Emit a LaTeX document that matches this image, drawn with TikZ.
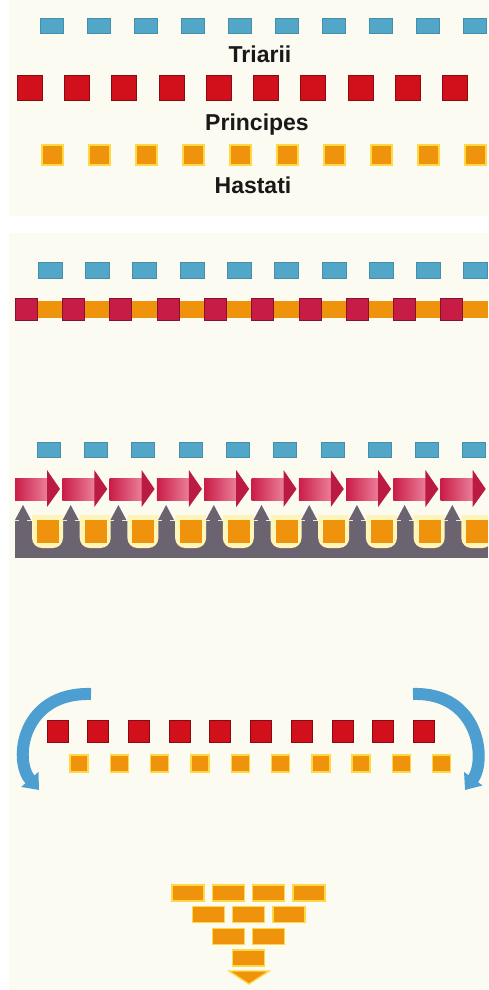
\documentclass[tikz,border=0pt]{standalone}
\usepackage{fontspec}
\setmainfont{Liberation Sans}
\usepackage{xcolor}
\usepackage{tikz}
\usetikzlibrary{arrows.meta,positioning}
\definecolor{LegioSky}{HTML}{52A7C8}
\definecolor{LegioRed}{HTML}{D2101C}
\definecolor{LegioCrimson}{HTML}{DC1F4E}
\definecolor{LegioOrange}{HTML}{EF920C}
\definecolor{LegioAmber}{HTML}{FFD845}
\definecolor{LegioPale}{HTML}{FFF5B8}
\definecolor{LegioSlate}{HTML}{6B6470}
\definecolor{LegioCream}{HTML}{FCFBF1}
\definecolor{LegioBlue}{HTML}{4C9FD0}
\begin{document}
\begin{tikzpicture}[x=1pt,y=-1pt,
  skybox/.style={fill=LegioSky,draw=LegioSky!85!black,line width=.6pt},
  redbox/.style={fill=LegioRed,draw=LegioRed!65!black,line width=.8pt},
  crimbox/.style={fill=LegioCrimson!90!black,draw=LegioCrimson!60!black,line width=.6pt},
  orbox/.style={fill=LegioOrange,draw=LegioAmber,line width=1.4pt},
  rankname/.style={font=\fontsize{23}{26}\selectfont\bfseries,text=black!90,anchor=base},
  bluearc/.style={LegioBlue,line width=12pt,-{Triangle[width=22pt,length=14pt]}}]
\useasboundingbox (0,0) rectangle (488,990);
\clip (0,0) rectangle (488,990);
\fill[LegioCream] (9,0) rectangle (488,216) (9,233) rectangle (488,990);
% the three lines
\foreach \i in {0,...,9}{\path[skybox] ({40+47*\i},18) rectangle +(23,15);}
\foreach \i in {0,...,9}{\path[redbox] ({17+47.3*\i},75) rectangle +(25,25);}
\foreach \i in {0,...,9}{\path[orbox] ({42+47*\i},145) rectangle +(21,20);}
\node[rankname] (triarii) at (260,63) {Triarii};
\node[rankname] (principes) at (257,130) {Principes};
\node[rankname] (hastati) at (253,193) {Hastati};
% closed line
\foreach \i in {0,...,9}{\path[skybox] ({38+47.3*\i},262) rectangle +(24,16);}
\fill[LegioOrange] (15,301) rectangle (488,318);
\foreach \i in {0,...,9}{\path[crimbox] ({15+47.3*\i},298) rectangle +(22,22);}
% principes push through, hastati fall back
\foreach \i in {0,...,9}{\path[skybox] ({37+47.3*\i},442) rectangle +(23,15);}
\foreach \i [evaluate=\i as \x using 15+47.3*\i] in {0,...,9}{
  \shade[left color=LegioCrimson!92!black,right color=LegioCrimson!55] (\x,478) rectangle ({\x+34},500);
  \fill[LegioCrimson!85!black] ({\x+32},470) -- ({\x+45},489) -- ({\x+32},507) -- cycle;}
\fill[LegioSlate] (15,521) rectangle (488,558);
\foreach \i [evaluate=\i as \s using 23+47.7*\i] in {0,...,9}{
  \fill[LegioPale,rounded corners=10pt] ({\s+9},515) -- ({\s+9},548) -- ({\s+40},548) -- ({\s+40},515);
  \fill[LegioOrange] ({\s+14},520) rectangle +(22,23);
  \fill[LegioSlate] ({\s-4},515) rectangle ({\s+4},550);
  \fill[LegioSlate] ({\s-8},520) -- (\s,505) -- ({\s+8},520) -- cycle;}
% wheeling
\draw[bluearc] (91,694) .. controls (22,692) and (13,760) .. (39,790);
\draw[bluearc] (413,694) .. controls (479,692) and (487,760) .. (465,790);
\foreach \i in {0,...,9}{\path[redbox] ({47+40.7*\i},720) rectangle +(21,22);}
\foreach \i in {0,...,9}{\path[orbox] ({70+40.3*\i},755) rectangle +(18,17);}
% wedge
\foreach \r/\n in {0/4,1/3,2/2,3/1}{
  \foreach \c in {1,...,\n}{\path[orbox] ({172+20.2*\r+40.3*(\c-1)},{885+21.7*\r}) rectangle +(32,16);}}
\path[orbox] (229,971) -- (269,971) -- (249,984) -- cycle;
\end{tikzpicture}
\end{document}
